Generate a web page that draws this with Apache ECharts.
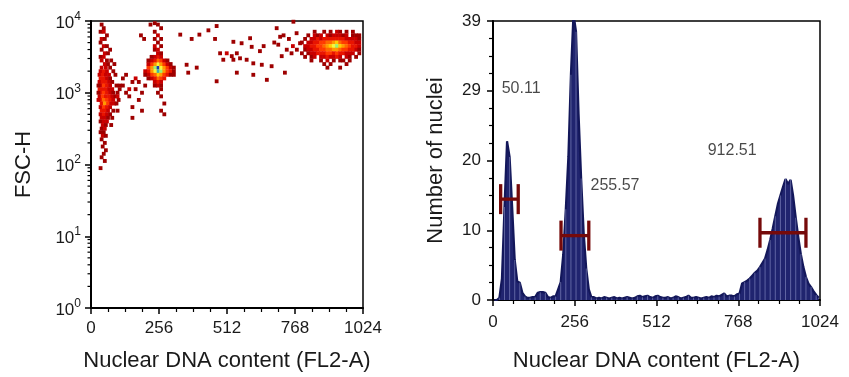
<!DOCTYPE html>
<html><head><meta charset="utf-8">
<script src="https://cdn.jsdelivr.net/npm/echarts@6/dist/echarts.min.js"></script>
<style>html,body{margin:0;padding:0;background:#fff}#c{width:849px;height:377px}</style>
</head><body><div id="c"></div>
<script>
// ---------- data ----------
const xTickValues = [0, 256, 512, 768, 1024];
const xAxisTitle = 'Nuclear DNA content (FL2-A)';
const leftYTitle = 'FSC-H';
const rightYTitle = 'Number of nuclei';

// left panel: density cells [FL2-A, FSC-H, density level]
const g1Cells = [
 [40,8913,1],[48,7943,1],[36,7079,1],[48,7079,2],[60,6310,1],[40,5623,2],[52,5623,1],[36,5012,1],
 [48,4467,2],[60,4467,1],[72,3981,1],[40,3981,1],[52,3548,2],[64,3548,1],[36,3162,1],[48,3162,2],
 [60,2818,1],[40,2818,2],[76,2818,1],[52,2512,2],[64,2512,1],[88,2512,1],[40,2239,2],[56,2239,2],[72,2239,1],
 [36,1995,2],[48,1995,3],[60,1995,2],[84,1995,1],
 [32,1778,2],[44,1778,3],[56,1778,2],[68,1778,2],[92,1778,1],
 [36,1585,3],[48,1585,3],[60,1585,2],[72,1585,1],
 [32,1413,2],[44,1413,3],[56,1413,3],[68,1413,2],[80,1413,1],
 [36,1259,2],[48,1259,4],[60,1259,3],[72,1259,2],[96,1259,1],
 [32,1122,3],[44,1122,3],[56,1122,3],[68,1122,2],[80,1122,2],
 [36,1000,3],[48,1000,4],[60,1000,3],[72,1000,2],[84,1000,1],
 [32,891,2],[44,891,4],[56,891,3],[68,891,3],[80,891,2],[92,891,1],
 [36,794,3],[48,794,5],[60,794,4],[72,794,3],[84,794,2],
 [40,708,3],[52,708,6],[64,708,4],[76,708,2],[88,708,2],
 [36,631,2],[48,631,4],[60,631,3],[72,631,2],
 [40,562,3],[52,562,3],[64,562,2],
 [36,501,2],[48,501,3],[60,501,2],[72,501,1],
 [40,447,2],[52,447,2],[64,447,1],
 [36,398,1],[48,398,2],[60,398,2],
 [44,355,2],[56,355,1],[40,316,1],[52,316,2],[48,282,1],[36,282,1],
 [44,251,2],[56,251,1],[40,224,1],[52,200,1],[44,178,1],[56,158,1],[48,141,1],[40,126,1],[52,112,1],[36,89,1],
 [100,1000,1],[104,794,1],[96,708,1],[100,891,2],[108,1259,1],[100,562,1],[84,562,1],[80,447,1],
 [76,355,1],[28,1000,1],[28,794,2],[28,1259,1]
];
const fringeCells = [
 [120,1585,1],[132,1778,1],[168,1585,2],[180,1413,1],[144,1122,2],[168,1122,1],[132,1000,1],[180,794,1],
 [156,631,1],[192,562,1],[120,1259,1],[156,1413,1],[144,891,1],[192,1000,1],[204,1259,1],[108,1122,1],
 [156,447,1],[188,6310,1],[200,5623,1],[224,8913,1]
];
const g2Cells = [
 [252,2239,11],[252,1995,10],[264,1995,9],[240,2239,9],[264,2239,8],[240,1995,8],[252,2512,8],[252,1778,7],
 [276,2239,6],[228,2239,6],[276,1995,6],[228,1995,6],[264,2512,6],[240,2512,6],[264,1778,6],[240,1778,5],
 [252,2818,5],[252,1585,5],[288,2239,4],[216,2239,4],[288,1995,4],[216,1995,3],[276,2512,4],[228,2512,4],
 [276,1778,4],[228,1778,4],[264,2818,4],[240,2818,3],[264,1585,4],[240,1585,3],[252,1413,3],[252,3162,3],
 [300,2239,2],[204,1995,2],[300,1995,3],[288,2512,2],[216,2512,2],[288,1778,3],[216,1778,2],[276,2818,2],
 [228,2818,2],[276,1585,3],[228,1585,2],[264,1413,2],[240,1413,2],[252,1259,2],[264,1259,1],[240,1259,1],
 [264,3162,2],[240,3162,2],[252,3548,2],[264,3548,1],[240,3981,1],[252,3981,2],[264,4467,1],[240,4467,2],
 [252,5012,1],[240,5623,1],[264,5623,1],[252,6310,2],[240,7079,1],[264,7943,1],[252,8913,1],[240,9333,1],
 [228,3162,1],[288,2818,1],[312,2239,1],[312,1995,1],[300,1778,1],[300,2512,1],[216,1585,1],[204,1778,1],
 [216,2818,1],[312,1778,1],[264,1122,1],[252,1000,1],[264,891,1],[276,708,1],[264,562,1],[276,501,1]
];
const betweenCells = [
 [336,6457,1],[408,6457,1],[442,7413,1],[473,8511,1],[379,5623,1],[360,2455,1],[398,2239,1],[366,1905,1],
 [473,1445,1],[467,5623,1],[536,5129,1],[567,4898,1],[599,5754,1],[605,4365,1],[636,3802,1],[699,7943,1],
 [712,6026,1],[705,4677,1],[718,3236,1],[730,1905,1],[762,9772,1],[774,6761,1],[787,4898,1],[486,3548,1],
 [511,3548,2],[530,3236,1],[549,3548,1],[561,3020,1],[586,2884,1],[498,2884,1],[536,2884,1],[611,2570,1],
 [643,2455,1],[662,1514,1],[737,3981,1],[755,3548,1],[680,2344,1],[611,1778,1],[549,1905,1],
 [690,5012,1],[745,5623,1],[760,4467,2],[775,3981,1],[650,4467,1],[725,6310,1]
];
const g4Cells = [
 [842,7079,1],[878,7079,1],[902,7079,1],[926,7079,2],[938,7079,1],[962,7079,1],[986,7079,1],
 [818,6310,1],[842,6310,2],[854,6310,1],[866,6310,2],[890,6310,2],[902,6310,1],[914,6310,2],[926,6310,2],
 [938,6310,2],[950,6310,1],[962,6310,2],[986,6310,1],[998,6310,1],[1010,6310,1],
 [806,5623,1],[830,5623,2],[842,5623,2],[854,5623,3],[866,5623,2],[878,5623,3],[890,5623,3],[902,5623,3],
 [914,5623,3],[926,5623,3],[938,5623,3],[950,5623,3],[962,5623,2],[974,5623,2],[986,5623,2],[998,5623,2],[1010,5623,1],
 [794,5012,1],[818,5012,2],[830,5012,2],[842,5012,3],[854,5012,3],[866,5012,4],[878,5012,4],[890,5012,5],
 [902,5012,5],[914,5012,6],[926,5012,7],[938,5012,5],[950,5012,4],[962,5012,4],[974,5012,3],[986,5012,3],[998,5012,2],[1010,5012,2],
 [806,4467,2],[818,4467,2],[830,4467,3],[842,4467,3],[854,4467,4],[866,4467,4],[878,4467,5],[890,4467,6],
 [902,4467,7],[914,4467,8],[926,4467,9],[938,4467,7],[950,4467,6],[962,4467,5],[974,4467,4],[986,4467,3],[998,4467,3],[1010,4467,2],
 [806,3981,1],[818,3981,2],[830,3981,2],[842,3981,3],[854,3981,3],[866,3981,4],[878,3981,4],[890,3981,5],
 [902,3981,5],[914,3981,6],[926,3981,6],[938,3981,5],[950,3981,4],[962,3981,4],[974,3981,3],[986,3981,3],[998,3981,2],[1010,3981,1],
 [794,3548,1],[818,3548,1],[830,3548,2],[842,3548,2],[854,3548,3],[866,3548,3],[878,3548,3],[890,3548,4],
 [902,3548,4],[914,3548,3],[926,3548,4],[938,3548,3],[950,3548,3],[962,3548,2],[974,3548,2],[986,3548,2],[1010,3548,1],
 [806,3162,1],[830,3162,1],[842,3162,2],[866,3162,2],[878,3162,2],[890,3162,3],[902,3162,2],[914,3162,2],
 [926,3162,3],[938,3162,2],[962,3162,2],[974,3162,1],[998,3162,1],
 [830,2818,1],[866,2818,1],[890,2818,2],[914,2818,1],[938,2818,1],[950,2818,1],[974,2818,1],
 [878,2512,1],[902,2512,1],[962,2512,1],[890,2239,1],[938,2239,1]
];

// right panel: histogram counts, 8-unit channels starting at 0
const histBinWidth = 8;
const histCounts = [
 0,0,0.3,3,13,22.2,20,13,
 5.6,2.6,2.4,1.0,0.5,0.3,0.3,0.4,
 0.4,1.0,1.1,1.1,1.0,0.4,0.3,0.5,
 0.5,1.5,2.5,6.4,12.7,20,31.5,40,
 37.5,26,17,9.4,4.4,1.5,0.4,0.4,
 0.2,0.3,0.2,0.4,0.3,0.2,0.3,0.4,
 0.2,0.3,0.2,0.3,0.4,0.3,0.2,0.3,
 0.5,0.6,0.4,0.5,0.6,0.4,0.3,0.5,
 0.6,0.4,0.3,0.3,0.4,0.2,0.3,0.5,
 0.4,0.2,0.3,0.4,0.6,0.3,0.3,0.4,
 0.3,0.2,0.3,0.4,0.3,0.5,0.4,0.6,
 0.5,0.7,0.9,0.5,0.6,0.6,0.5,0.8,
 0.9,2.3,2.5,2.7,3.0,3.4,3.8,4.1,
 4.6,5.2,5.8,7.0,8.4,10.0,11.7,13.4,
 14.6,15.8,16.9,16.2,16.8,14.5,11.5,8.8,
 6.4,4.6,3.2,2.3,1.8,1.2,0.7,0.3
];
// gates and peak labels
const gateFrom = [24, 213, 836];
const gateTo = [79, 300, 980];
const gateLevel = [14.1, 9.0, 9.4];
const peakLabels = ['50.11', '255.57', '912.51'];
const peakLabelX = [88, 382, 749];
const peakLabelY = [29.5, 16.0, 20.9];

// ---------- chart ----------
const FONT = '"Liberation Sans", Arial, Helvetica, sans-serif';
const TXT = '#1a1a1a';
const levelColors = ['#ffffff','#9e0000','#c80000','#e81400','#ff3a00','#ff6a00','#ff9a00','#ffcc00','#f6f63c','#9cf070','#3fb0b0','#2038b0'];

const histData = histCounts.map((c, i) => [i * histBinWidth + histBinWidth / 2, c]);
const stripeData = histData.filter((d, i) => i % 2 === 0);

const minorLog = [];
[1, 10, 100, 1000].forEach(d => { for (let k = 2; k <= 9; k++) minorLog.push(d * k); });

const axisLineStyle = {lineStyle: {color: '#000', width: 2}};
const labelBase = {fontFamily: FONT, color: TXT, fontSize: 17};
const nameBase = {fontFamily: FONT, color: TXT, fontSize: 22};
const plainNum = v => String(Math.round(v));

const chart = echarts.init(document.getElementById('c'), null, {renderer: 'canvas'});
chart.setOption({
  animation: false,
  backgroundColor: '#fff',
  grid: [
    {left: 91, top: 21, width: 272, height: 290, show: true, borderColor: '#000', borderWidth: 1.5, containLabel: false},
    {left: 493, top: 21, width: 327, height: 284, show: true, borderColor: '#000', borderWidth: 1.5, containLabel: false}
  ],
  xAxis: [
    {gridIndex: 0, type: 'value', min: 0, max: 1024, interval: 256,
     axisLine: axisLineStyle, axisTick: {length: 6, lineStyle: {width: 1.5, color: '#000'}},
     minorTick: {show: true, splitNumber: 4, length: 4, lineStyle: {width: 1.2, color: '#000'}},
     splitLine: {show: false}, axisLabel: Object.assign({margin: 12, formatter: plainNum}, labelBase),
     name: xAxisTitle, nameLocation: 'middle', nameGap: 42, nameTextStyle: nameBase},
    {gridIndex: 1, type: 'value', min: 0, max: 1024, interval: 256,
     axisLine: axisLineStyle, axisTick: {length: 6, lineStyle: {width: 1.5, color: '#000'}},
     minorTick: {show: true, splitNumber: 4, length: 4, lineStyle: {width: 1.2, color: '#000'}},
     splitLine: {show: false}, axisLabel: Object.assign({margin: 14, formatter: plainNum}, labelBase),
     name: xAxisTitle, nameLocation: 'middle', nameGap: 50, nameTextStyle: nameBase}
  ],
  yAxis: [
    {gridIndex: 0, type: 'log', logBase: 10, min: 1, max: 10000,
     axisLine: axisLineStyle, axisTick: {length: 6, lineStyle: {width: 1.5, color: '#000'}},
     splitLine: {show: false},
     axisLabel: {margin: 10, fontFamily: FONT, color: TXT,
       formatter: v => '{b|10}{s|' + Math.round(Math.log10(v)) + '}',
       rich: {b: {fontSize: 17, fontFamily: FONT, color: TXT, verticalAlign: 'bottom', padding: [4, 0, 0, 0]},
              s: {fontSize: 12, fontFamily: FONT, color: TXT, verticalAlign: 'top'}}},
     name: leftYTitle, nameLocation: 'middle', nameGap: 56, nameTextStyle: nameBase},
    {gridIndex: 1, type: 'value', min: 0, max: 39, interval: 9.75,
     axisLine: axisLineStyle, axisTick: {length: 6, lineStyle: {width: 1.5, color: '#000'}},
     minorTick: {show: true, splitNumber: 4, length: 4, lineStyle: {width: 1.2, color: '#000'}},
     splitLine: {show: false},
     axisLabel: Object.assign({margin: 12, formatter: plainNum}, labelBase),
     name: rightYTitle, nameLocation: 'middle', nameGap: 46, nameTextStyle: nameBase}
  ],
  series: [
    {type: 'scatter', xAxisIndex: 0, yAxisIndex: 0, symbol: 'rect', symbolSize: [3.8, 3.9],
     data: [].concat(g1Cells, fringeCells, betweenCells, g4Cells, g2Cells),
     itemStyle: {opacity: 1, color: p => levelColors[p.data[2]]}, silent: true, z: 2},
    {type: 'custom', xAxisIndex: 0, yAxisIndex: 0, clip: false, silent: true, z: 5,
     data: minorLog.map(v => [0, v]),
     renderItem: (params, api) => {
       const p = api.coord([api.value(0), api.value(1)]);
       return {type: 'line', shape: {x1: p[0] - 3.5, y1: p[1], x2: p[0], y2: p[1]},
               style: {stroke: '#000', lineWidth: 1.2}};
     }},
    {type: 'line', xAxisIndex: 1, yAxisIndex: 1, data: histData, symbol: 'none', clip: true,
     lineStyle: {color: '#13175a', width: 2.2}, areaStyle: {color: '#20246f', opacity: 1}, z: 2},
    {type: 'bar', xAxisIndex: 1, yAxisIndex: 1, data: stripeData, barWidth: 1, clip: true,
     itemStyle: {color: 'rgba(160,165,215,0.5)'}, silent: true, z: 3},
    {type: 'custom', xAxisIndex: 1, yAxisIndex: 1, clip: false, silent: true, z: 6,
     data: gateFrom.map((f, i) => [f, gateTo[i], gateLevel[i]]),
     renderItem: (params, api) => {
       const a = api.coord([api.value(0), api.value(2)]);
       const b = api.coord([api.value(1), api.value(2)]);
       const h = 15, st = {stroke: '#760a0a', lineWidth: 3.3};
       return {type: 'group', children: [
         {type: 'line', shape: {x1: a[0], y1: a[1], x2: b[0], y2: b[1]}, style: st},
         {type: 'line', shape: {x1: a[0], y1: a[1] - h, x2: a[0], y2: a[1] + h}, style: st},
         {type: 'line', shape: {x1: b[0], y1: b[1] - h, x2: b[0], y2: b[1] + h}, style: st}
       ]};
     }},
    {type: 'scatter', xAxisIndex: 1, yAxisIndex: 1, symbolSize: 0, silent: true, z: 7,
     data: peakLabels.map((t, i) => ({value: [peakLabelX[i], peakLabelY[i]], name: t})),
     label: {show: true, position: 'inside', formatter: p => p.name, fontFamily: FONT, fontSize: 16, color: TXT}}
  ]
});
</script></body></html>
